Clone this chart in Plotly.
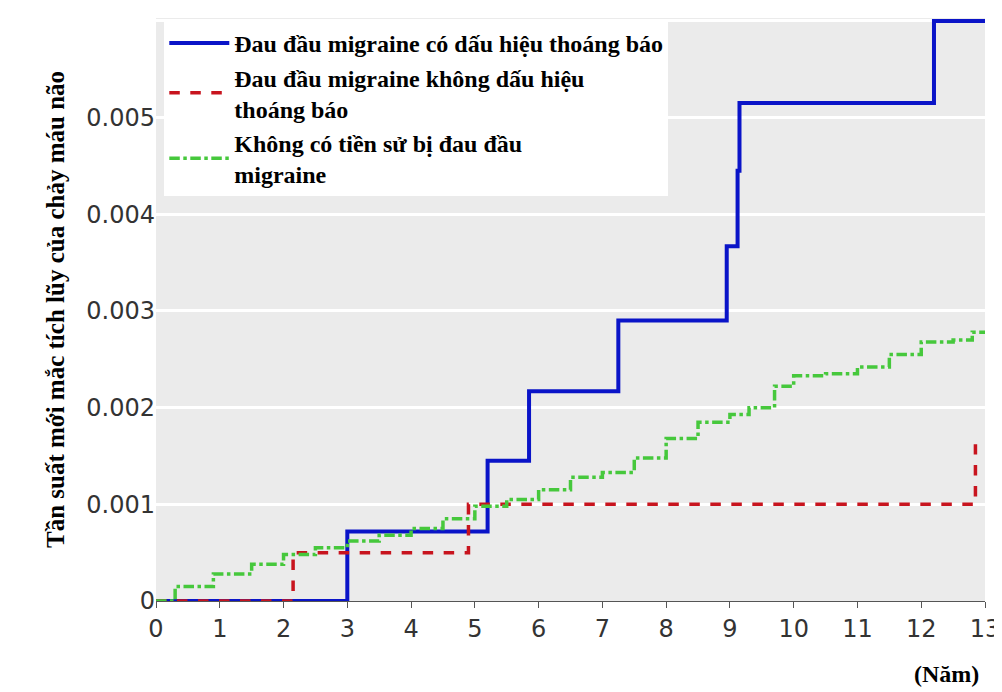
import plotly.graph_objects as go

blue_x = [0, 3.0, 5.2, 5.85, 7.25, 8.95, 9.12, 9.15, 12.2, 13]
blue_y = [0, 0.00072, 0.00145, 0.00217, 0.0029, 0.00367, 0.00445, 0.00515, 0.006, 0.006]
red_x = [0, 2.15, 4.9, 12.85, 12.85]
red_y = [0, 0.0005, 0.001, 0.001, 0.00162]
green_x = [0, 0.3, 0.9, 1.5, 2.0, 2.5, 3.0, 3.5, 4.0, 4.5, 5.0, 5.5, 6.0, 6.5, 7.0, 7.5, 8.0, 8.5, 9.0, 9.3, 9.7, 10.0, 10.5, 11.0, 11.5, 12.0, 12.5, 12.8, 13]
green_y = [0, 0.00015, 0.00028, 0.00038, 0.00048, 0.00055, 0.00062, 0.00068, 0.00075, 0.00085, 0.00098, 0.00105, 0.00115, 0.00128, 0.00133, 0.00148, 0.00168, 0.00185, 0.00193, 0.002, 0.00222, 0.00233, 0.00235, 0.00242, 0.00255, 0.00268, 0.0027, 0.00278, 0.00278]
x_ticks = list(range(0, 14))
y_ticks = [0, 0.001, 0.002, 0.003, 0.004, 0.005, 0.006]
y_labels = ["0", "0.001", "0.002", "0.003", "0.004", "0.005", "0.006"]

fig = go.Figure()
fig.add_trace(go.Scatter(x=blue_x, y=blue_y, mode="lines", line=dict(shape="hv", color="#0a14c8", width=4),
                         name="<b>Đau đầu migraine có dấu hiệu thoáng báo</b>"))
fig.add_trace(go.Scatter(x=red_x, y=red_y, mode="lines", line=dict(shape="hv", color="#c8141e", width=3.5, dash="dash"),
                         name="<b>Đau đầu migraine không dấu hiệu<br>thoáng báo</b>"))
fig.add_trace(go.Scatter(x=green_x, y=green_y, mode="lines", line=dict(shape="hv", color="#46c83c", width=3.5, dash="dashdot"),
                         name="<b>Không có tiền sử bị đau đầu<br>migraine</b>"))

fig.update_layout(
    width=1002, height=692, paper_bgcolor="white", plot_bgcolor="#ebebeb",
    margin=dict(l=148, r=17, t=10, b=99),
    showlegend=True,
    legend=dict(x=0.01, y=0.995, xanchor="left", yanchor="top", bgcolor="white",
                font=dict(family="Liberation Serif", size=24, color="black"),
                itemwidth=60, tracegroupgap=6),
    xaxis=dict(range=[0, 13], tickvals=x_ticks, showgrid=False, zeroline=False,
               ticks="outside", ticklen=6, tickcolor="#555", showline=True, linecolor="#555",
               tickfont=dict(family="DejaVu Sans", size=24, color="#333")),
    yaxis=dict(range=[0, 0.00603], tickvals=y_ticks, ticktext=y_labels, gridcolor="white", gridwidth=3,
               zeroline=False, tickfont=dict(family="DejaVu Sans", size=24, color="#333"),
               title=dict(text="<b>Tần suất mới mắc tích lũy của chảy máu não</b>",
                          font=dict(family="Liberation Serif", size=25, color="black"), standoff=14)),
    annotations=[dict(text="<b>(Năm)</b>", x=0.995, y=-0.125, xref="paper", yref="paper",
                      xanchor="right", yanchor="middle", showarrow=False,
                      font=dict(family="Liberation Serif", size=24, color="black"))],
)
fig.write_html("out.html")
